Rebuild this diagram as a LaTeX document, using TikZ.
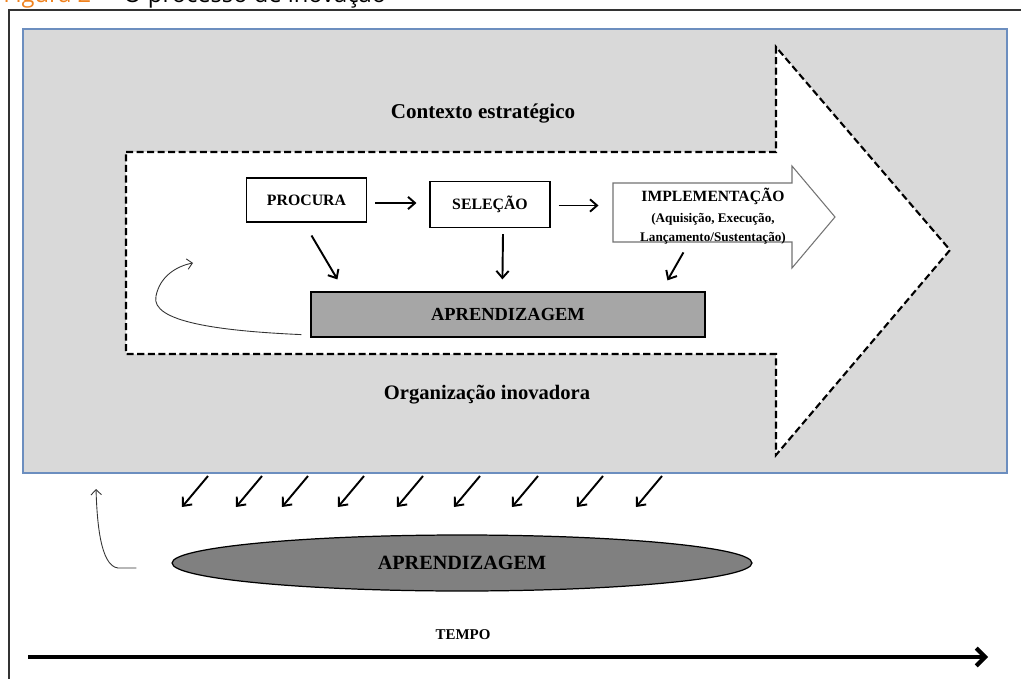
\documentclass[tikz,border=0pt]{standalone}
\usepackage{fontspec}
\setmainfont{Liberation Serif}
\newfontfamily\capfont{Open Sans}
\usetikzlibrary{arrows.meta,shapes.geometric,calc}
\definecolor{bgbox}{HTML}{D9D9D9}
\definecolor{bgedge}{HTML}{6C8EBF}
\definecolor{aprfill}{HTML}{A6A6A6}
\definecolor{ellfill}{HTML}{808080}
\definecolor{figorange}{HTML}{F0821E}
\definecolor{framegray}{HTML}{333333}
\tikzset{
  stepbox/.style={draw=black, line width=0.6pt, fill=white, inner sep=0pt, font=\bfseries\fontsize{9}{10}\selectfont},
  arr/.style={line width=1.1pt, -{Straight Barb[length=4pt,width=7pt]}},
  curvearr/.style={line width=0.5pt, draw=black!80, -{Straight Barb[length=3pt,width=6pt]}},
  lbl/.style={font=\bfseries\fontsize{12}{14}\selectfont, inner sep=0pt}
}
\begin{document}
\begin{tikzpicture}[x=0.02cm,y=-0.02cm]
\useasboundingbox (0,0) rectangle (1021,679);
% title (cut at top, as in the reference)
\node[anchor=base west, inner sep=0pt, font=\capfont\fontsize{13.5}{15}\selectfont] (title) at (3,3)
  {\textcolor{figorange}{Figura 2} \,–\, O processo de inovação};
% outer frame
\draw[framegray, line width=0.9pt] (9,690) -- (9,10) -- (1030,10);
% gray background
\draw[bgedge, fill=bgbox, line width=0.6pt] (23,29) rectangle (1007,473);
% big dashed arrow
\draw[dashed, dash pattern=on 4pt off 2pt, line width=1.2pt, fill=white]
  (126,152) -- (776,152) -- (776,47) -- (950,250) -- (776,455) -- (776,354) -- (126,354) -- cycle;
\node[lbl] (ctx) at (483,114) {Contexto estratégico};
\node[lbl, font=\bfseries\fontsize{11.7}{13}\selectfont] (org) at (487,395) {Organização inovadora};
% steps
\node[stepbox, minimum width=2.4cm, minimum height=0.88cm] (proc) at (306.5,200) {PROCURA};
\node[stepbox, minimum width=2.4cm, minimum height=0.92cm] (sel) at (490,204.5) {SELEÇÃO};
% implementation arrow
\draw[draw=black!55, fill=white, line width=0.6pt]
  (613,183) -- (792,183) -- (792,166) -- (835,217) -- (792,268) -- (792,242) -- (613,242) -- cycle;
\node[inner sep=0pt, align=center] (impl) at (713,216)
  {{\bfseries\fontsize{8.9}{10}\selectfont IMPLEMENTAÇÃO}\\[0pt]
   {\bfseries\fontsize{7.5}{8.5}\selectfont (Aquisição, Execução,}\\[-1.5pt]
   {\bfseries\fontsize{7.5}{8.5}\selectfont Lançamento/Sustentação)}};
% learning box
\node[draw=black, line width=0.7pt, fill=aprfill, minimum width=7.88cm, minimum height=0.9cm, inner sep=0pt,
  font=\bfseries\fontsize{10.5}{12}\selectfont] (apr) at (508,314.5) {APRENDIZAGEM};
% arrows between steps
\draw[arr] ($(proc.east)+(8,3)$) -- ($(sel.west)+(-13,-1.5)$);
\draw[arr] ($(sel.east)+(8,1)$) -- ($(sel.east)+(48,1)$);
\draw[arr] ($(proc.south)+(5,13)$) -- ($(apr.north west)+(27,-12)$);
\draw[arr] ($(sel.south)+(13,6)$) -- ($(apr.north west)+(192,-12)$);
\draw[arr] ($(apr.north west)+(373,-39)$) -- ($(apr.north west)+(357,-11)$);
% inner feedback curve
\coordinate (fb1) at (193,263);
\draw[curvearr] ($(apr.south west)+(-9,-3)$) .. controls (220,331) and (150,322) .. (156,296)
  .. controls (160,276) and (177,266) .. (fb1);
% small diagonal arrows
\foreach \x [count=\i] in {208,262,308,364,423,480,538,603,662}{
  \coordinate (d\i) at (\x,476);
  \draw[arr] (d\i) -- ++(-26,31);
}
% bottom ellipse
\node[ellipse, draw=black, line width=0.7pt, fill=ellfill, minimum width=11.6cm, minimum height=1.12cm, inner sep=0pt,
  font=\bfseries\fontsize{11.5}{13}\selectfont] (ell) at (462,563) {APRENDIZAGEM};
% outer feedback curve
\coordinate (fb2) at (96,489);
\draw[curvearr] ($(ell.west)+(-35,5)$) -- (118,568) .. controls (100,566) and (97,520) .. (fb2);
% time axis
\node[inner sep=0pt, font=\bfseries\fontsize{8.5}{10}\selectfont] (tempo) at (463,635) {TEMPO};
\coordinate (t0) at (28,657);
\coordinate (t1) at (988,657);
\draw[line width=2.4pt, -{Straight Barb[length=5pt,width=10pt]}] (t0) -- (t1);
\end{tikzpicture}
\end{document}
